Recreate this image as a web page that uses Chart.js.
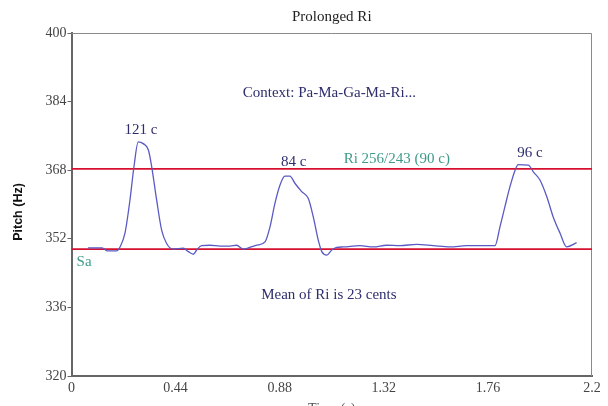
<!DOCTYPE html>
<html>
<head>
<meta charset="utf-8">
<title>Prolonged Ri</title>
<script src="https://cdn.jsdelivr.net/npm/chart.js@4.4.0/dist/chart.umd.min.js"></script>
<style>
  html, body { margin: 0; padding: 0; background: #fff; }
  #pitchChart { display: block; }
</style>
</head>
<body>
<canvas id="pitchChart" width="608" height="406"></canvas>
<script>
// pitch track
const timeSec = [0.07, 0.13, 0.15, 0.19, 0.205, 0.226, 0.247, 0.264, 0.282, 0.303, 0.325, 0.339, 0.36, 0.381, 0.402,
    0.43, 0.473, 0.494, 0.515, 0.529, 0.55, 0.585, 0.628, 0.67, 0.698, 0.726, 0.754, 0.783, 0.818, 0.839, 0.86,
    0.881, 0.902, 0.923, 0.945, 0.973, 1.001, 1.022, 1.043, 1.058, 1.079, 1.1, 1.121, 1.149, 1.219, 1.276, 1.332,
    1.388, 1.459, 1.529, 1.6, 1.67, 1.741, 1.79, 1.811, 1.832, 1.853, 1.875, 1.888, 1.931, 1.952, 1.98, 2.009,
    2.036, 2.065, 2.093, 2.135];
const pitchHz = [349.9, 349.9, 349.2, 349.2, 350.1, 353.3, 361.0, 368.8, 374.6, 374.2, 372.7, 368.8, 361.0, 354.0, 350.9,
    349.6, 349.8, 349.0, 348.4, 349.4, 350.4, 350.5, 350.3, 350.3, 350.5, 349.6, 350.0, 350.5, 351.3, 354.8, 360.3,
    364.5, 366.6, 366.6, 364.9, 363.0, 361.4, 357.1, 351.7, 349.0, 348.2, 349.4, 350.0, 350.1, 350.4, 350.1, 350.5,
    350.4, 350.7, 350.4, 350.1, 350.4, 350.4, 350.4, 354.8, 359.5, 364.1, 368.0, 369.3, 369.2, 367.6, 365.7, 361.8,
    357.1, 353.3, 350.1, 351.1];

// reference pitches (Sa and Ri = 256/243 above it)
const saHz = 349.6;
const riHz = 368.3;

const xTicks = [0, 0.44, 0.88, 1.32, 1.76, 2.2];
const yTicks = [320, 336, 352, 368, 384, 400];

// annotation texts, anchored in data space (time, Hz)
const noteText = ['Context: Pa-Ma-Ga-Ma-Ri...', '121 c', '84 c', 'Ri 256/243 (90 c)', '96 c', 'Sa', 'Mean of Ri is 23 cents'];
const noteTime = [1.09, 0.294, 0.939, 1.375, 1.938, 0.053, 1.088];
const noteHz   = [386.1, 377.3, 369.9, 370.7, 371.9, 346.6, 338.9];

const NAVY = '#2e2e6e';
const TEAL = '#3f9a8a';
const noteColor = [NAVY, NAVY, NAVY, TEAL, NAVY, TEAL, NAVY];

const SERIF = '"Liberation Serif", "Times New Roman", serif';

const textLayer = {
    id: 'textLayer',
    beforeDatasetsDraw(chart) {
        const { ctx, chartArea: a } = chart;
        ctx.save();
        ctx.strokeStyle = '#8a8a8a';
        ctx.lineWidth = 1;
        ctx.beginPath();
        ctx.moveTo(a.left, a.top + 0.5);
        ctx.lineTo(a.right - 0.5, a.top + 0.5);
        ctx.lineTo(a.right - 0.5, a.bottom);
        ctx.stroke();
        ctx.restore();
    },
    afterDraw(chart) {
        const { ctx, chartArea: a, scales } = chart;
        ctx.save();
        ctx.textAlign = 'center';
        ctx.textBaseline = 'middle';

        noteText.forEach((txt, i) => {
            ctx.fillStyle = noteColor[i];
            ctx.font = '15px ' + SERIF;
            ctx.fillText(txt, scales.x.getPixelForValue(noteTime[i]), scales.y.getPixelForValue(noteHz[i]));
        });

        // chart title
        ctx.fillStyle = '#222';
        ctx.font = '15px ' + SERIF;
        ctx.fillText('Prolonged Ri', (a.left + a.right) / 2, 17);

        // x title, mostly cut off at the bottom like the original
        ctx.fillStyle = '#555';
        ctx.font = '14px ' + SERIF;
        ctx.fillText('Time (s)', (a.left + a.right) / 2, 409);

        // y title
        ctx.translate(18.5, 212);
        ctx.rotate(-Math.PI / 2);
        ctx.fillStyle = '#111';
        ctx.font = 'bold 12.5px "Liberation Sans", Arial, sans-serif';
        ctx.fillText('Pitch (Hz)', 0, 0);
        ctx.restore();
    }
};

const refLine = (hz) => [{ x: xTicks[0], y: hz }, { x: xTicks[xTicks.length - 1], y: hz }];

new Chart(document.getElementById('pitchChart').getContext('2d'), {
    type: 'line',
    data: {
        datasets: [
            {
                label: 'Pitch',
                data: timeSec.map((t, i) => ({ x: t, y: pitchHz[i] })),
                borderColor: '#5a5ac4',
                borderWidth: 1.3,
                pointRadius: 0,
                cubicInterpolationMode: 'monotone'
            },
            {
                label: 'Ri',
                data: refLine(riHz),
                borderColor: '#d6102e',
                borderWidth: 1.6,
                pointRadius: 0
            },
            {
                label: 'Sa',
                data: refLine(saHz),
                borderColor: '#d6102e',
                borderWidth: 1.6,
                pointRadius: 0
            }
        ]
    },
    options: {
        responsive: false,
        animation: false,
        layout: { padding: { left: 0, right: 16, top: 33, bottom: 0 } },
        plugins: { legend: { display: false }, tooltip: { enabled: false } },
        scales: {
            x: {
                type: 'linear',
                min: xTicks[0],
                max: xTicks[xTicks.length - 1],
                afterBuildTicks: (s) => { s.ticks = xTicks.map(v => ({ value: v })); },
                afterFit: (s) => { s.height = 30; },
                grid: { display: false, drawTicks: false },
                border: { color: '#666', width: 2 },
                ticks: { padding: 4, color: '#444', font: { family: SERIF, size: 14 }, maxRotation: 0,
                    callback: (v) => String(v) }
            },
            y: {
                min: yTicks[0],
                max: yTicks[yTicks.length - 1],
                afterBuildTicks: (s) => { s.ticks = yTicks.map(v => ({ value: v })); },
                afterFit: (s) => { s.width = 71.5; },
                grid: { drawOnChartArea: false, drawTicks: true, tickLength: 4, color: '#666' },
                border: { color: '#666', width: 2 },
                ticks: { padding: 1, color: '#444', font: { family: SERIF, size: 14 },
                    callback: (v) => String(v) }
            }
        }
    },
    plugins: [textLayer]
});
</script>
</body>
</html>
